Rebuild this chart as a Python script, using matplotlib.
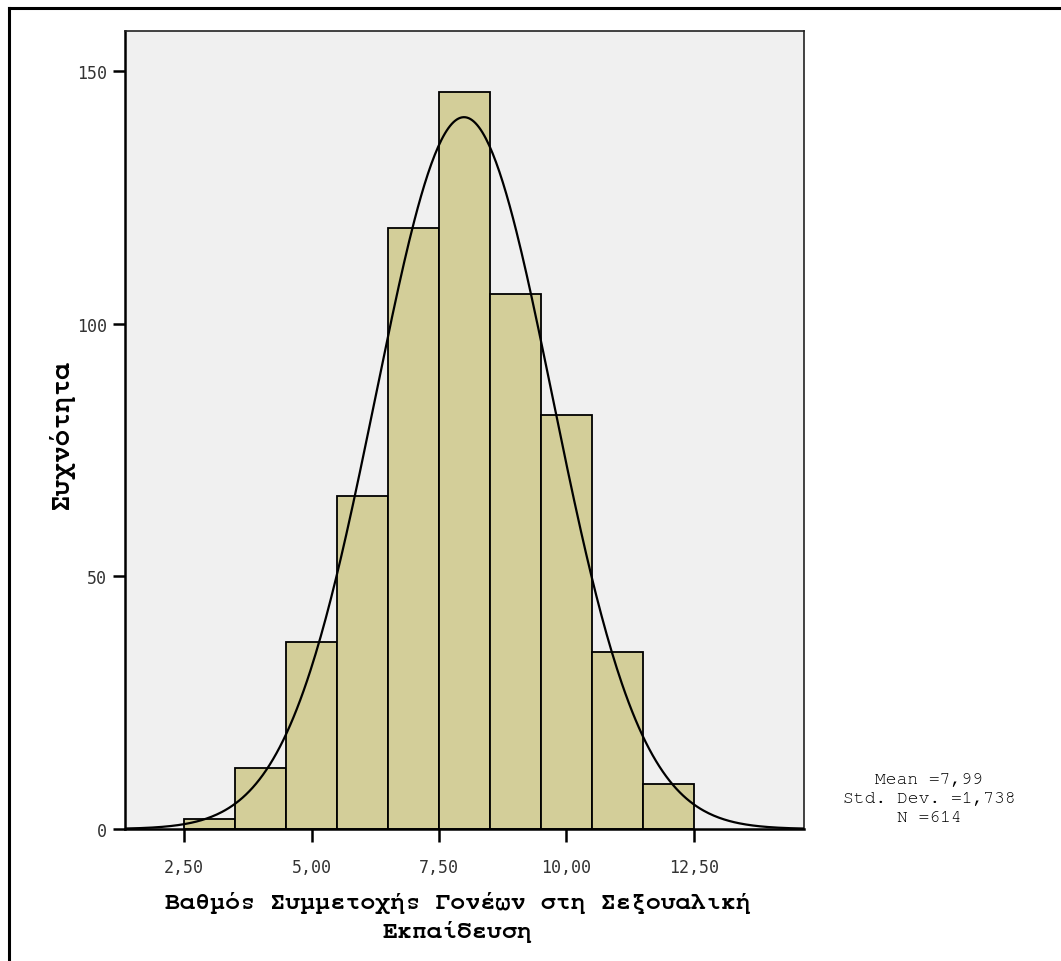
import numpy as np
import matplotlib
matplotlib.use("Agg")
import matplotlib.pyplot as plt
from matplotlib.lines import Line2D

# histogram data (bin edges of width 1, from 2.5 to 12.5)
bin_left = [2.5, 3.5, 4.5, 5.5, 6.5, 7.5, 8.5, 9.5, 10.5, 11.5]
counts = [2, 12, 37, 66, 119, 146, 106, 82, 35, 9]
bin_width = 1.0

mean = 7.99
std_dev = 1.738
n_total = 614

x_ticks = [2.5, 5.0, 7.5, 10.0, 12.5]
x_tick_labels = ["2,50", "5,00", "7,50", "10,00", "12,50"]
y_ticks = [0, 50, 100, 150]

x_label_lines = ["Βαθμός Συμμετοχής Γονέων στη Σεξουαλική", "Εκπαίδευση"]
y_label = "Συχνότητα"
stats_lines = ["Mean =7,99", "Std. Dev. =1,738", "N =614"]

courier = ["FreeMono", "Liberation Mono", "DejaVu Sans Mono"]

W, H = 1061, 962
fig = plt.figure(figsize=(W / 100, H / 100), dpi=100)
fig.patch.set_facecolor("white")

ax = fig.add_axes([125 / W, 1 - 830 / H, (804 - 125) / W, (830 - 32) / H])
ax.set_facecolor("#f0f0f0")

ax.bar(bin_left, counts, width=bin_width, align="edge",
       color="#d3ce99", edgecolor="black", linewidth=1.3, zorder=2)

# fitted normal curve from the reported mean / sd / N
xs = np.linspace(1.34, 14.66, 400)
ys = n_total * bin_width / (std_dev * np.sqrt(2 * np.pi)) * np.exp(-0.5 * ((xs - mean) / std_dev) ** 2)
ax.plot(xs, ys, color="black", lw=1.6, zorder=3)

ax.set_xlim(1.34, 14.66)
ax.set_ylim(0, 158)

ax.set_xticks(x_ticks)
ax.set_xticklabels(x_tick_labels)
ax.set_yticks(y_ticks)
for lab in ax.get_xticklabels() + ax.get_yticklabels():
    lab.set_fontfamily("DejaVu Sans Mono")
    lab.set_fontsize(12)
    lab.set_color("#333333")
ax.tick_params(axis="both", length=9, width=1.8, color="black")
ax.tick_params(axis="x", pad=12)
ax.tick_params(axis="y", pad=4)

for side in ["left", "bottom"]:
    ax.spines[side].set_linewidth(1.8)
for side in ["top", "right"]:
    ax.spines[side].set_linewidth(1.2)
    ax.spines[side].set_color("#222222")

# axis titles placed like the SPSS output
fig.text(458 / W, 1 - 903 / H, x_label_lines[0], ha="center", va="center",
         family=courier, fontweight="bold", fontsize=18)
fig.text(458 / W, 1 - 932 / H, x_label_lines[1], ha="center", va="center",
         family=courier, fontweight="bold", fontsize=18)
fig.text(61 / W, 1 - 434 / H, y_label, ha="center", va="center", rotation=90,
         family=courier, fontweight="bold", fontsize=20)

for i, line in enumerate(stats_lines):
    fig.text(929 / W, 1 - (780 + 19 * i) / H, line, ha="center", va="center",
             family=courier, fontsize=13)

# outer frame (only top and left edges visible)
fig.add_artist(Line2D([9 / W, 9 / W], [1 - 9 / H, 0], transform=fig.transFigure,
                      color="black", lw=2.2))
fig.add_artist(Line2D([9 / W, 1], [1 - 9 / H, 1 - 9 / H], transform=fig.transFigure,
                      color="black", lw=2.2))

fig.savefig("out.png", dpi=100)
